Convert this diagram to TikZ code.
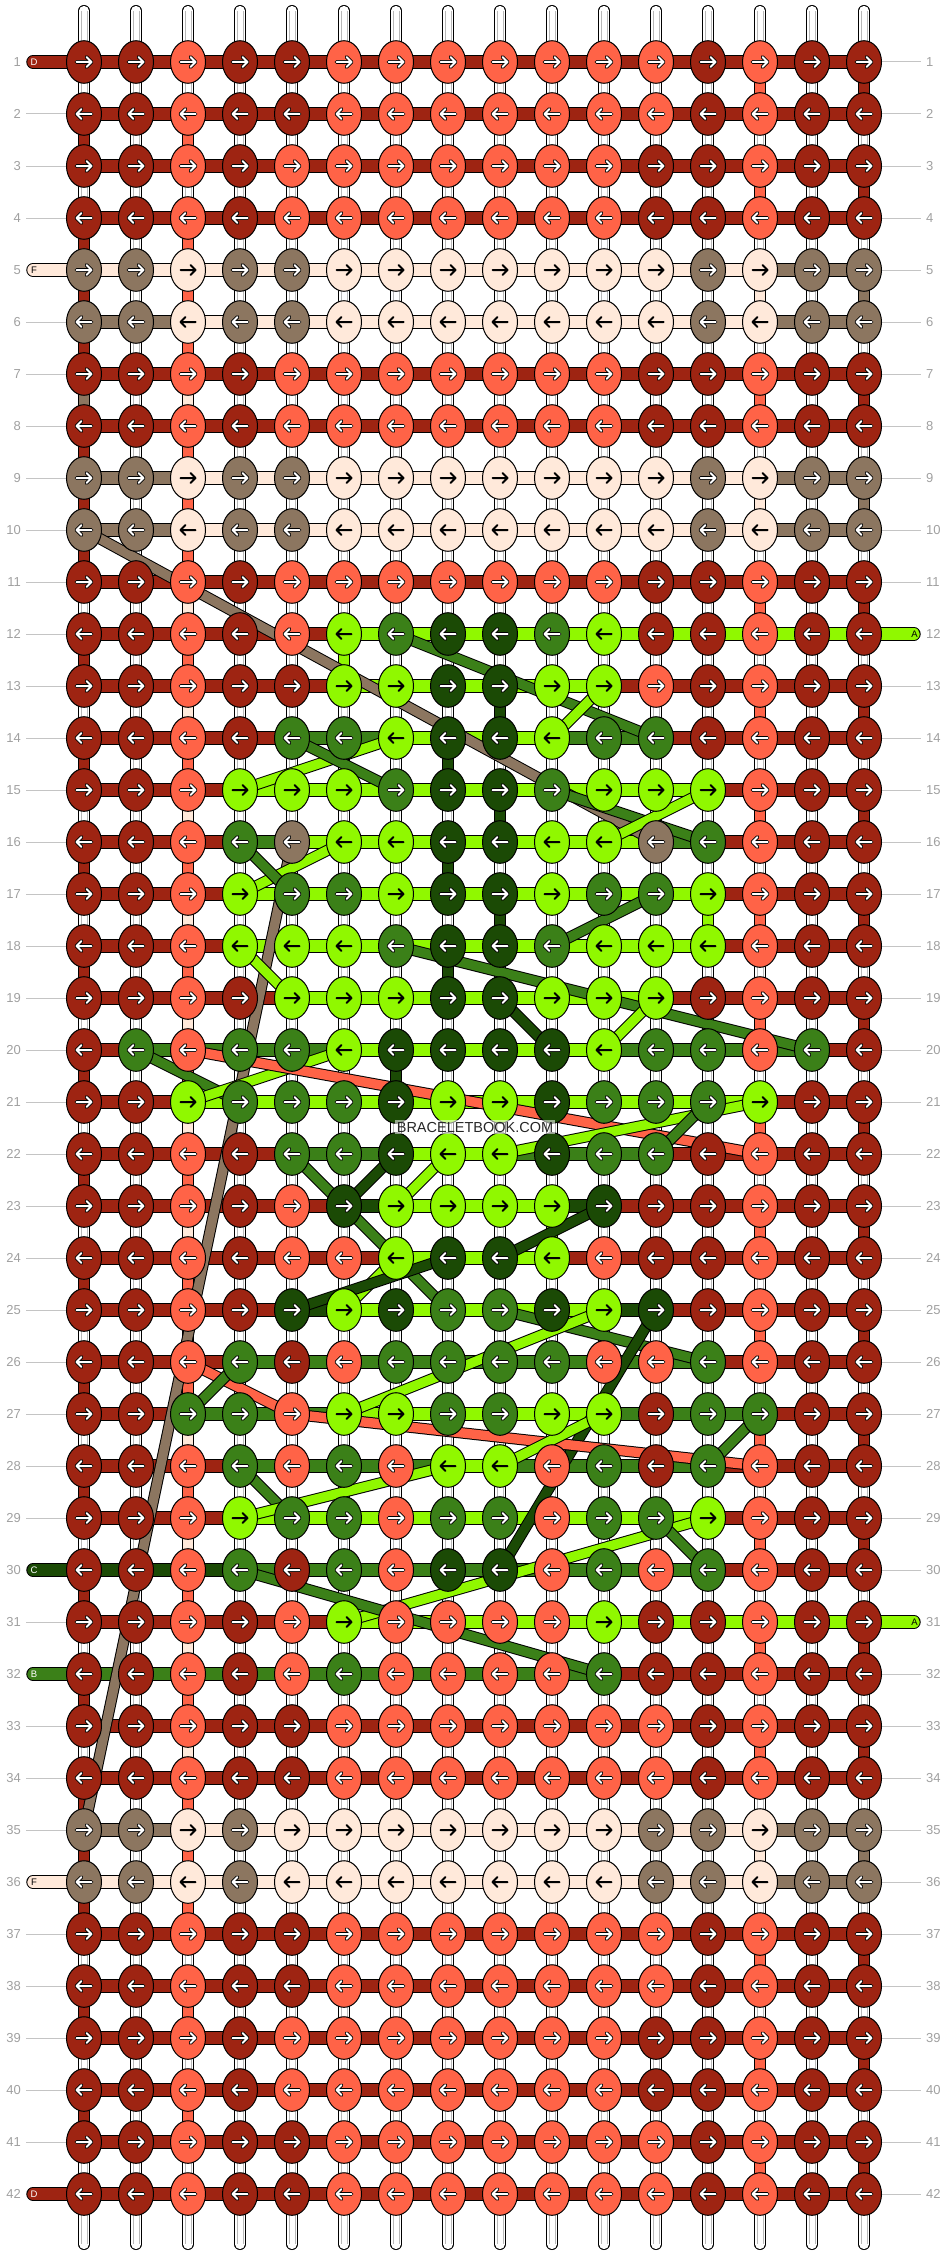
\documentclass[tikz,border=0pt]{standalone}
\usepackage{fontspec}
\setmainfont{Liberation Sans}
\usetikzlibrary{shapes.geometric}
\definecolor{kd}{HTML}{9E2412}
\definecolor{kc}{HTML}{FF6347}
\definecolor{kt}{HTML}{8C7660}
\definecolor{kw}{HTML}{FFE9DA}
\definecolor{kl}{HTML}{90F800}
\definecolor{km}{HTML}{3B8018}
\definecolor{kg}{HTML}{1B4A05}
\definecolor{labgray}{HTML}{A0A0A0}
\definecolor{guidegray}{HTML}{C4C4C4}
\definecolor{tubeline}{HTML}{B8B8B8}
\colorlet{ad}{white}\colorlet{ac}{white}\colorlet{at}{white}\colorlet{am}{white}\colorlet{ag}{white}
\colorlet{aw}{black}\colorlet{al}{black}
\colorlet{od}{black}\colorlet{oc}{black}\colorlet{ot}{black}\colorlet{om}{black}\colorlet{og}{black}
\colorlet{ow}{kw}\colorlet{ol}{kl}
\pgfdeclarelayer{tubes}
\pgfdeclarelayer{bars}
\pgfdeclarelayer{diag}
\pgfsetlayers{tubes,bars,diag,main}
\tikzset{
  knot/.style={ellipse, draw=black, line width=1pt, minimum width=35pt, minimum height=42.6pt, inner sep=0pt},
  barout/.style={line width=13.4pt, draw=black},
  barin/.style={line width=11.4pt},
  gapout/.style={line width=12.2pt, draw=black},
  gapin/.style={line width=10.2pt},
  diagout/.style={line width=11.4pt, draw=black},
  diagin/.style={line width=9.4pt},
  numlab/.style={text=labgray, font=\fontsize{13}{13}\selectfont, inner sep=0pt},
  guide/.style={draw=guidegray, line width=1pt},
  caplab/.style={font=\fontsize{9.5}{9.5}\selectfont, inner sep=0pt},
  arrowline/.style={line cap=round, line join=round},
}
\newcommand{\vgap}[3]{%
  \pgfmathtruncatemacro\rn{#1+1}%
  \draw[gapout] (k-#1-#2.center) -- (k-\rn-#2.center);%
  \draw[gapin, draw=k#3] (k-#1-#2.center) -- (k-\rn-#2.center);}
\begin{document}
\begin{tikzpicture}[x=1pt,y=-1pt]
\useasboundingbox (0,0) rectangle (948,2256);
% ---------- knots ----------
\foreach \row [count=\r] in {
{d,d,c,d,d,c,c,c,c,c,c,c,d,c,d,d},
{d,d,c,d,d,c,c,c,c,c,c,c,d,c,d,d},
{d,d,c,d,c,c,c,c,c,c,c,d,d,c,d,d},
{d,d,c,d,c,c,c,c,c,c,c,d,d,c,d,d},
{t,t,w,t,t,w,w,w,w,w,w,w,t,w,t,t},
{t,t,w,t,t,w,w,w,w,w,w,w,t,w,t,t},
{d,d,c,d,c,c,c,c,c,c,c,d,d,c,d,d},
{d,d,c,d,c,c,c,c,c,c,c,d,d,c,d,d},
{t,t,w,t,t,w,w,w,w,w,w,w,t,w,t,t},
{t,t,w,t,t,w,w,w,w,w,w,w,t,w,t,t},
{d,d,c,d,c,c,c,c,c,c,c,d,d,c,d,d},
{d,d,c,d,c,l,m,g,g,m,l,d,d,c,d,d},
{d,d,c,d,d,l,l,g,g,l,l,c,d,c,d,d},
{d,d,c,d,m,m,l,g,g,l,m,m,d,c,d,d},
{d,d,c,l,l,l,m,g,g,m,l,l,l,c,d,d},
{d,d,c,m,t,l,l,g,g,l,l,t,m,c,d,d},
{d,d,c,l,m,m,l,g,g,l,m,m,l,c,d,d},
{d,d,c,l,l,l,m,g,g,m,l,l,l,c,d,d},
{d,d,c,d,l,l,l,g,g,l,l,l,d,c,d,d},
{d,m,c,m,m,l,g,g,g,g,l,m,m,c,m,d},
{d,d,l,m,m,m,g,l,l,g,m,m,m,l,d,d},
{d,d,c,d,m,m,g,l,l,g,m,m,d,c,d,d},
{d,d,c,d,c,g,l,l,l,l,g,d,d,c,d,d},
{d,d,c,d,c,c,l,g,g,l,c,d,d,c,d,d},
{d,d,c,d,g,l,g,m,m,g,l,g,d,c,d,d},
{d,d,c,m,d,c,m,m,m,m,c,c,m,c,d,d},
{d,d,m,m,c,l,l,m,m,l,l,d,m,m,d,d},
{d,d,c,m,c,m,c,l,l,c,m,d,m,c,d,d},
{d,d,c,l,m,m,c,m,m,c,m,m,l,c,d,d},
{d,d,c,m,d,m,c,g,g,c,m,c,m,c,d,d},
{d,d,c,d,c,l,c,c,c,c,l,d,d,c,d,d},
{d,d,c,d,c,m,c,c,c,c,m,d,d,c,d,d},
{d,d,c,d,d,c,c,c,c,c,c,c,d,c,d,d},
{d,d,c,d,d,c,c,c,c,c,c,c,d,c,d,d},
{t,t,w,t,w,w,w,w,w,w,w,t,t,w,t,t},
{t,t,w,t,w,w,w,w,w,w,w,t,t,w,t,t},
{d,d,c,d,d,c,c,c,c,c,c,c,d,c,d,d},
{d,d,c,d,d,c,c,c,c,c,c,c,d,c,d,d},
{d,d,c,d,c,c,c,c,c,c,c,d,d,c,d,d},
{d,d,c,d,c,c,c,c,c,c,c,d,d,c,d,d},
{d,d,c,d,d,c,c,c,c,c,c,c,d,c,d,d},
{d,d,c,d,d,c,c,c,c,c,c,c,d,c,d,d}}{
  \pgfmathtruncatemacro\dir{1-2*mod(\r+1,2)}
  \foreach \k [count=\c] in \row {
    \pgfmathsetmacro\xx{84+52*(\c-1)}
    \pgfmathsetmacro\yy{62+52*(\r-1)}
    \node[knot, fill=k\k] (k-\r-\c) at (\xx,\yy) {};
    \draw[arrowline, line width=3.6pt, draw=o\k] ({\xx-7.5*(\dir)},\yy) -- ({\xx+7.5*(\dir)},\yy)
       ({\xx+2.5*(\dir)},\yy-5) -- ({\xx+7.5*(\dir)},\yy) -- ({\xx+2.5*(\dir)},\yy+5);
    \draw[arrowline, line width=2pt, draw=a\k] ({\xx-7.5*(\dir)},\yy) -- ({\xx+7.5*(\dir)},\yy)
       ({\xx+2.5*(\dir)},\yy-5) -- ({\xx+7.5*(\dir)},\yy) -- ({\xx+2.5*(\dir)},\yy+5);
  }
}
% ---------- tubes, guides, labels ----------
\begin{pgfonlayer}{tubes}
\foreach \c in {1,...,16} {
  \pgfmathsetmacro\xx{84+52*(\c-1)}
  \coordinate (top-\c) at (\xx,10.8);
  \coordinate (bot-\c) at (\xx,2244.2);
  \draw[line width=11.6pt, black, line cap=round] (top-\c) -- (bot-\c);
  \draw[line width=9.8pt, white, line cap=round] (top-\c) -- (bot-\c);
  \draw[tubeline, line width=0.6pt] ([xshift=-3.2pt]top-\c) -- ([xshift=-3.2pt]bot-\c);
  \draw[tubeline, line width=0.6pt] ([xshift=3.2pt]top-\c) -- ([xshift=3.2pt]bot-\c);
}
\foreach \r in {1,...,42} {
  \pgfmathsetmacro\yy{62+52*(\r-1)}
  \coordinate (gl-\r) at (26,\yy);
  \coordinate (gr-\r) at (921,\yy);
  \draw[guide] (gl-\r) -- (k-\r-1.center);
  \draw[guide] (k-\r-16.center) -- (gr-\r);
  \node[numlab, anchor=east] (ll-\r) at (21,\yy) {\r};
  \node[numlab, anchor=west] (rl-\r) at (926,\yy) {\r};
}
\end{pgfonlayer}
% ---------- vertical gaps and horizontal bars ----------
\begin{pgfonlayer}{bars}
\foreach \r in {2,4,...,40} { \vgap{\r}{1}{d} \vgap{\r}{3}{c} }
\foreach \r in {1,3,7,11,13,15,17,19,21,23,25,27,29,31,33,37,39,41} { \vgap{\r}{14}{c} \vgap{\r}{16}{d} }
\foreach \r in {7,11,13,15,17,19,21,23,25,27,29,31,33} { \vgap{\r}{3}{w} }
\foreach \r/\c/\k in {5/1/d,9/1/d,35/1/d,7/1/t,5/3/c,9/3/c,35/3/c,5/14/w,9/14/w,35/14/w,5/16/t,9/16/t,35/16/t,
  12/6/l,13/9/g,14/8/g,15/9/g,16/8/g,17/9/g,17/13/l,18/8/g,20/7/g,23/10/l} { \vgap{\r}{\c}{\k} }
\foreach \hs [count=\r] in {
{d,d,d,d,d,d,d,d,d,d,d,d,d,d,d},
{d,d,d,d,d,d,d,d,d,d,d,d,d,d,d},
{d,d,d,d,d,d,d,d,d,d,d,d,d,d,d},
{d,d,d,d,d,d,d,d,d,d,d,d,d,d,d},
{w,w,w,w,w,w,w,w,w,w,w,w,w,t,t},
{t,t,w,w,w,w,w,w,w,w,w,w,w,t,t},
{d,d,d,d,d,d,d,d,d,d,d,d,d,d,d},
{d,d,d,d,d,d,d,d,d,d,d,d,d,d,d},
{t,t,w,w,w,w,w,w,w,w,w,w,w,t,t},
{t,t,w,w,w,w,w,w,w,w,w,w,w,t,t},
{d,d,d,d,d,d,d,d,d,d,d,d,d,d,d},
{d,d,d,d,d,l,l,l,l,l,l,l,l,l,l},
{d,d,d,d,d,l,l,l,l,l,d,d,d,d,d},
{d,d,d,d,m,m,l,l,l,m,m,d,d,d,d},
{d,d,d,l,l,l,l,l,l,l,l,l,d,d,d},
{d,d,d,m,l,l,l,l,l,l,l,m,d,d,d},
{d,d,d,l,l,l,l,l,l,l,l,l,d,d,d},
{d,d,d,l,l,l,l,l,l,l,l,l,d,d,d},
{d,d,d,d,l,l,l,l,l,l,l,d,d,d,d},
{d,m,m,m,m,l,l,l,l,l,m,m,m,m,d},
{d,d,l,l,l,l,l,l,l,l,l,l,l,d,d},
{d,d,d,d,m,m,l,l,m,m,m,d,d,d,d},
{d,d,d,d,d,g,l,l,l,g,d,d,d,d,d},
{d,d,d,d,d,d,l,l,l,d,d,d,d,d,d},
{d,d,d,d,g,l,l,l,l,l,g,d,d,d,d},
{d,d,d,m,m,m,m,m,m,m,m,m,d,d,d},
{d,d,m,m,m,l,l,l,l,l,m,m,m,d,d},
{d,d,d,m,m,m,m,l,m,m,m,m,d,d,d},
{d,d,d,l,l,l,l,l,l,l,l,l,d,d,d},
{g,g,g,m,m,m,m,m,m,m,m,m,d,d,d},
{d,d,d,d,d,l,l,l,l,l,l,l,l,l,l},
{m,m,m,m,m,m,m,m,m,m,d,d,d,d,d},
{d,d,d,d,d,d,d,d,d,d,d,d,d,d,d},
{d,d,d,d,d,d,d,d,d,d,d,d,d,d,d},
{t,t,w,w,w,w,w,w,w,w,w,w,w,t,t},
{w,w,w,w,w,w,w,w,w,w,w,w,w,t,t},
{d,d,d,d,d,d,d,d,d,d,d,d,d,d,d},
{d,d,d,d,d,d,d,d,d,d,d,d,d,d,d},
{d,d,d,d,d,d,d,d,d,d,d,d,d,d,d},
{d,d,d,d,d,d,d,d,d,d,d,d,d,d,d},
{d,d,d,d,d,d,d,d,d,d,d,d,d,d,d},
{d,d,d,d,d,d,d,d,d,d,d,d,d,d,d}}{
  \foreach \h [count=\c] in \hs {
    \pgfmathtruncatemacro\cn{\c+1}
    \draw[barout] (k-\r-\c.center) -- (k-\r-\cn.center);
    \draw[barin, draw=k\h] (k-\r-\c.center) -- (k-\r-\cn.center);
  }
}
% left caps
\foreach \r/\k/\t/\tc in {1/d/D/white,5/w/F/black,30/g/C/white,32/m/B/white,36/w/F/black,42/d/D/white} {
  \pgfmathsetmacro\yy{62+52*(\r-1)}
  \coordinate (cl-\r) at (33,\yy);
  \draw[line width=13.4pt, black, line cap=round] (cl-\r) -- (k-\r-1.center);
  \draw[line width=11.4pt, draw=k\k, line cap=round] (cl-\r) -- (k-\r-1.center);
  \node[caplab, text=\tc] (clab-\r) at (34,\yy) {\t};
}
% right caps
\foreach \r/\k/\t/\tc in {12/l/A/black,31/l/A/black} {
  \pgfmathsetmacro\yy{62+52*(\r-1)}
  \coordinate (cr-\r) at (914,\yy);
  \draw[line width=13.4pt, black, line cap=round] (k-\r-16.center) -- (cr-\r);
  \draw[line width=11.4pt, draw=k\k, line cap=round] (k-\r-16.center) -- (cr-\r);
  \node[caplab, text=\tc] (crlab-\r) at (914.5,\yy) {\t};
}
\end{pgfonlayer}
% ---------- diagonal carried threads ----------
\begin{pgfonlayer}{diag}
\foreach \ra/\ca/\rb/\cb/\k in {10/1/16/12/t, 16/5/35/1/t, 12/7/14/12/m, 13/11/14/10/l, 14/7/15/4/l,
  14/5/15/7/m, 15/10/16/13/m, 15/13/16/11/l, 16/6/17/4/l, 16/4/17/5/m, 17/12/18/10/m, 18/4/19/5/l,
  18/7/20/15/m, 19/9/20/10/g, 19/12/20/11/l, 20/2/21/4/m, 21/3/20/6/l, 20/3/22/14/c, 22/9/21/14/l,
  22/12/21/13/m, 22/5/23/6/m, 22/7/23/6/g, 22/8/23/7/l, 23/6/25/8/m, 24/9/23/11/g, 24/7/25/6/l,
  25/5/24/8/g, 25/9/26/13/m, 25/11/27/6/l, 25/12/30/9/g, 26/3/27/5/c, 26/4/27/3/m, 27/5/28/14/c,
  27/11/28/9/l, 27/14/28/13/m, 28/4/29/5/m, 28/8/29/4/l, 29/13/31/6/l, 29/12/30/13/m, 30/4/32/11/m} {
  \draw[diagout] (k-\ra-\ca.center) -- (k-\rb-\cb.center);
  \draw[diagin, draw=k\k] (k-\ra-\ca.center) -- (k-\rb-\cb.center);
}
\end{pgfonlayer}
% ---------- watermark ----------
\node[fill=white, fill opacity=0.55, text opacity=1, text=black!85, inner sep=1.5pt,
      font=\fontsize{14.5}{14.5}\selectfont] (wm) at (475,1127) {BRACELETBOOK.COM};
\end{tikzpicture}
\end{document}
